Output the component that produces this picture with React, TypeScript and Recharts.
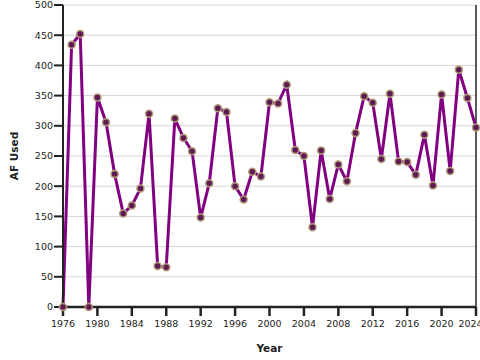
import {
  LineChart,
  Line,
  XAxis,
  YAxis,
  CartesianGrid,
  ReferenceLine,
} from "recharts";

const years = [
  1976, 1977, 1978, 1979, 1980, 1981, 1982, 1983, 1984, 1985, 1986, 1987,
  1988, 1989, 1990, 1991, 1992, 1993, 1994, 1995, 1996, 1997, 1998, 1999,
  2000, 2001, 2002, 2003, 2004, 2005, 2006, 2007, 2008, 2009, 2010, 2011,
  2012, 2013, 2014, 2015, 2016, 2017, 2018, 2019, 2020, 2021, 2022, 2023,
  2024,
];

const afUsed = [
  0, 434, 452, 0, 347, 306, 220, 155, 168, 196, 320, 68,
  66, 312, 280, 258, 148, 205, 329, 323, 200, 178, 224, 216,
  339, 337, 368, 260, 250, 132, 259, 179, 236, 208, 288, 349,
  338, 245, 353, 241, 240, 219, 285, 201, 352, 225, 393, 346,
  297,
];

const xTicks = [
  1976, 1980, 1984, 1988, 1992, 1996, 2000, 2004, 2008, 2012, 2016, 2020,
  2024,
];
const yTicks = [0, 50, 100, 150, 200, 250, 300, 350, 400, 450, 500];

const data = years.map((year, i) => ({ year, used: afUsed[i] }));

const font = "'DejaVu Sans', Verdana, sans-serif";

function YLabel(props: any) {
  const vb = props.viewBox;
  const cy = vb.y + vb.height / 2;
  return (
    <text
      x={14}
      y={cy}
      transform={`rotate(-90, 14, ${cy})`}
      textAnchor="middle"
      dominantBaseline="central"
      fontFamily={font}
      fontSize={10.5}
      fontWeight="bold"
      fill="#222"
    >
      AF Used
    </text>
  );
}

export default function App() {
  return (
    <div style={{ position: "absolute", left: 0, top: 0, background: "#fff" }}>
      <LineChart
        width={480}
        height={360}
        data={data}
        margin={{ top: 5, right: 4, left: 0, bottom: 0 }}
      >
        <CartesianGrid vertical={false} stroke="#d6d6d6" />
        <XAxis
          dataKey="year"
          type="number"
          domain={[1976, 2024]}
          ticks={xTicks}
          height={53}
          tickSize={9}
          tickMargin={4}
          stroke="#222"
          strokeWidth={2.5}
          tick={{ fill: "#222", fontSize: 9.5, fontFamily: font }}
          label={{
            value: "Year",
            position: "insideBottom",
            offset: 8,
            fill: "#222",
            fontSize: 10.5,
            fontWeight: "bold",
            fontFamily: font,
          }}
        />
        <YAxis
          domain={[0, 500]}
          ticks={yTicks}
          width={63}
          tickSize={9}
          tickMargin={1}
          stroke="#222"
          strokeWidth={2}
          tick={{ fill: "#222", fontSize: 9.5, fontFamily: font }}
          label={{ content: YLabel }}
        />
        <ReferenceLine x={2024} stroke="#222" strokeWidth={1.5} />
        <Line
          type="linear"
          dataKey="used"
          stroke="#800080"
          strokeWidth={3}
          isAnimationActive={false}
          dot={{
            r: 3.5,
            fill: "#5e1a52",
            stroke: "#b09a7a",
            strokeWidth: 1.5,
            fillOpacity: 1,
          }}
        />
      </LineChart>
    </div>
  );
}
